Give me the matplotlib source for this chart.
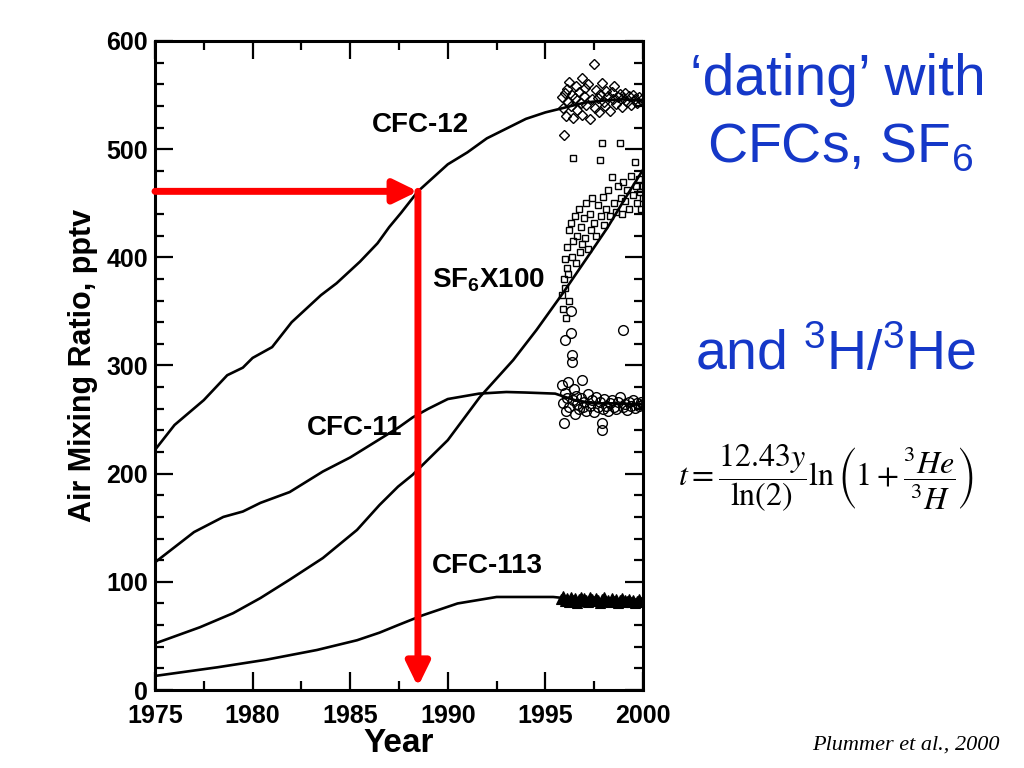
#!/usr/bin/env python
"""
CFC / SF6 air mixing ratio plot with dating arrows
"""

import matplotlib
matplotlib.use('Agg')
import matplotlib.pyplot as plt
from matplotlib.ticker import MultipleLocator

# atmospheric curves (year, pptv)
cfc12_year = [1975, 1976, 1977.5, 1978.7, 1979.5, 1980, 1981, 1982, 1983.5, 1984.3, 1985.5,
              1986.4, 1987, 1987.6, 1988.47, 1990, 1991, 1992, 1993, 1994, 1995, 1995.9,
              1997, 1998, 1999, 2000]
cfc12 = [222, 245, 268, 291, 298, 307, 317, 340, 365, 376, 396,
         413, 428, 441, 461, 486, 497, 510, 519, 528, 534, 538,
         543, 545, 546, 545]

cfc11_year = [1975, 1977, 1978.5, 1979.5, 1980.4, 1981.9, 1983.6, 1985, 1986.7, 1987.5,
              1988.2, 1989, 1990, 1991.6, 1993, 1994, 1995.5, 1996.5, 1997.5, 1998.5, 2000]
cfc11 = [118, 146, 160, 165, 173, 183, 202, 215, 234, 243,
         252, 260, 269, 274, 275.5, 275, 274, 268, 265, 265, 264]

sf6_year = [1975, 1977.3, 1979, 1980.4, 1981.9, 1983.6, 1985.35, 1986.5, 1987.45, 1988.2,
            1990, 1991.65, 1992.5, 1993.35, 1994.55, 1995.9, 1997.3, 1998.2, 1999, 2000]
sf6 = [43, 58, 71, 85, 102, 122, 148, 171, 188, 199,
       231, 271, 288, 305, 333, 367, 404, 428, 452, 481]

cfc113_year = [1975, 1978.2, 1980.7, 1983.3, 1985.35, 1986.5, 1987.45, 1988.7, 1990.5,
               1992.5, 1995.4, 1996.5, 1998, 2000]
cfc113 = [13, 21, 28, 37, 46, 53, 60, 69, 80, 86, 86, 84, 83, 82]

# groundwater samples
dia_year = [1995.85, 1995.9, 1995.95, 1996.0, 1996.05, 1996.1, 1996.15, 1996.2, 1996.3, 1996.35,
            1996.4, 1996.5, 1996.55, 1996.6, 1996.7, 1996.8, 1996.85, 1996.9, 1997.0, 1997.05,
            1997.1, 1997.2, 1997.3, 1997.5, 1997.4, 1997.55, 1997.6, 1997.7, 1997.75, 1997.8,
            1997.9, 1998.0, 1998.05, 1998.1, 1998.2, 1998.3, 1998.4, 1998.45, 1998.5, 1998.6,
            1998.7, 1998.8, 1998.9, 1999.0, 1999.1, 1999.2, 1999.3, 1999.4, 1999.5, 1999.6,
            1999.7, 1999.8, 1999.9, 2000.0]
dia_val = [548, 538, 513, 552, 531, 556, 544, 562, 540, 550,
           529, 547, 558, 536, 553, 543, 566, 532, 549, 557,
           541, 560, 528, 579, 546, 538, 555, 547, 534, 551,
           561, 544, 540, 554, 549, 535, 553, 546, 558, 542,
           548, 551, 539, 547, 552, 544, 549, 541, 550, 546,
           543, 548, 545, 544]

sq_year = [1995.85, 1995.9, 1995.95, 1996.0, 1996.0, 1996.05, 1996.1, 1996.1, 1996.15, 1996.2,
           1996.2, 1996.3, 1996.35, 1996.4, 1996.4, 1996.5, 1996.55, 1996.6, 1996.7, 1996.75,
           1996.8, 1996.9, 1997.0, 1997.05, 1997.1, 1997.2, 1997.3, 1997.35, 1997.4, 1997.5,
           1997.6, 1997.7, 1997.8, 1997.85, 1997.9, 1997.95, 1998.0, 1998.1, 1998.2, 1998.3,
           1998.4, 1998.5, 1998.6, 1998.7, 1998.8, 1998.85, 1998.9, 1999.0, 1999.1, 1999.2,
           1999.3, 1999.4, 1999.5, 1999.6, 1999.65, 1999.7, 1999.8, 1999.85, 1999.9, 2000.0,
           2000.0]
sq_val = [365, 352, 380, 372, 398, 344, 390, 410, 385, 425,
          360, 432, 400, 492, 415, 438, 395, 420, 445, 405,
          428, 412, 436, 418, 450, 408, 440, 425, 455, 432,
          420, 448, 490, 438, 506, 456, 430, 445, 462, 438,
          474, 450, 442, 466, 506, 455, 440, 470, 452, 462,
          445, 475, 458, 488, 466, 450, 472, 460, 445, 466,
          455]

circ_year = [1995.85, 1995.9, 1995.95, 1996.0, 1996.0, 1996.05, 1996.1, 1996.15, 1996.2, 1996.3,
             1996.3, 1996.35, 1996.35, 1996.4, 1996.45, 1996.5, 1996.55, 1996.6, 1996.7, 1996.8,
             1996.9, 1996.95, 1997.0, 1997.1, 1997.2, 1997.3, 1997.4, 1997.5, 1997.6, 1997.7,
             1997.8, 1997.9, 1997.9, 1997.95, 1998.0, 1998.1, 1998.2, 1998.3, 1998.4, 1998.5,
             1998.6, 1998.7, 1998.8, 1998.95, 1999.0, 1999.1, 1999.2, 1999.3, 1999.4, 1999.5,
             1999.6, 1999.7, 1999.8, 1999.9, 2000.0]
circ_val = [282, 265, 247, 275, 324, 258, 270, 285, 262, 350,
            330, 310, 303, 268, 278, 255, 272, 264, 260, 270,
            287, 262, 266, 258, 274, 263, 268, 257, 271, 262,
            266, 247, 240, 260, 269, 263, 258, 265, 268, 262,
            260, 266, 271, 333, 262, 264, 259, 266, 263, 268,
            261, 265, 263, 266, 264]

tri_year = [1995.8, 1995.9, 1996.0, 1996.1, 1996.2, 1996.3, 1996.4, 1996.5, 1996.6, 1996.7,
            1996.8, 1996.9, 1997.0, 1997.1, 1997.2, 1997.3, 1997.4, 1997.5, 1997.6, 1997.7,
            1997.8, 1997.9, 1998.0, 1998.1, 1998.2, 1998.3, 1998.4, 1998.5, 1998.6, 1998.7,
            1998.8, 1998.9, 1999.0, 1999.1, 1999.2, 1999.3, 1999.4, 1999.5, 1999.6, 1999.7,
            1999.8, 1999.9, 2000.0]
tri_val = [84, 87, 82, 85, 81, 86, 83, 85, 80, 84,
           86, 82, 85, 83, 81, 86, 84, 82, 85, 83,
           80, 84, 86, 82, 83, 81, 85, 82, 84, 80,
           83, 85, 81, 83, 82, 84, 81, 83, 80, 82,
           84, 81, 82]

# dating example
date_year = 1988.47
date_val = 461

BLUE = '#1538c8'


def plot_data():
    plt.rcParams['font.family'] = 'Liberation Sans'
    plt.rcParams['mathtext.fontset'] = 'custom'
    plt.rcParams['mathtext.rm'] = 'Liberation Sans'
    plt.rcParams['mathtext.bf'] = 'Liberation Sans:bold'

    fig = plt.figure(figsize=(10.24, 7.68), dpi=100)
    ax = fig.add_axes([155 / 1024, 1 - 690 / 768, 488 / 1024, 649 / 768])

    ax.plot(cfc12_year, cfc12, 'k-', lw=1.9)
    ax.plot(cfc11_year, cfc11, 'k-', lw=1.9)
    ax.plot(sf6_year, sf6, 'k-', lw=1.9)
    ax.plot(cfc113_year, cfc113, 'k-', lw=1.9)

    ax.plot(dia_year, dia_val, 'D', ms=5.5, mfc='none', mec='k', mew=1.0)
    ax.plot(sq_year, sq_val, 's', ms=5, mfc='none', mec='k', mew=1.0)
    ax.plot(circ_year, circ_val, 'o', ms=7, mfc='none', mec='k', mew=1.0)
    ax.plot(tri_year, tri_val, '^', ms=7, mfc='k', mec='k', mew=0.8)

    arrow = dict(arrowstyle='-|>,head_length=0.45,head_width=0.22', color='red', lw=5,
                 mutation_scale=32, shrinkA=0, shrinkB=0)
    ax.annotate('', xy=(date_year, date_val), xytext=(1975, date_val), arrowprops=arrow)
    ax.annotate('', xy=(date_year, 3), xytext=(date_year, date_val), arrowprops=arrow)

    lab = dict(fontsize=20, fontweight='bold', va='center')
    ax.text(1986.1, 522, 'CFC-12', **lab)
    ax.text(1982.8, 242, 'CFC-11', **lab)
    ax.text(1989.2, 379, r'SF$_\mathbf{6}$X100', **lab)
    ax.text(1989.2, 115, 'CFC-113', **lab)

    ax.set_xlim(1975, 2000)
    ax.set_ylim(0, 600)
    ax.xaxis.set_major_locator(MultipleLocator(5))
    ax.xaxis.set_minor_locator(MultipleLocator(2.5))
    ax.yaxis.set_major_locator(MultipleLocator(100))
    ax.yaxis.set_minor_locator(MultipleLocator(20))
    ax.tick_params(which='both', direction='in', top=True, right=True, width=1.6)
    ax.tick_params(which='major', length=13, labelsize=18)
    ax.tick_params(axis='x', which='major', pad=10)
    ax.tick_params(axis='y', which='major', pad=5)
    ax.tick_params(which='minor', length=6.5)
    for t in ax.get_xticklabels() + ax.get_yticklabels():
        t.set_fontweight('bold')
    for s in ax.spines.values():
        s.set_linewidth(2.2)

    ax.set_xlabel('Year', fontsize=24, fontweight='bold', labelpad=0)
    ax.set_ylabel('Air Mixing Ratio, pptv', fontsize=22, fontweight='bold', labelpad=6)

    # right side notes
    fig.text(838 / 1024, 1 - 80 / 768, '\u2018dating\u2019 with', color=BLUE,
             fontsize=41, ha='center', va='center')
    fig.text(840 / 1024, 1 - 148 / 768, r'CFCs, SF$_6$', color=BLUE,
             fontsize=40, ha='center', va='center')
    fig.text(836 / 1024, 1 - 355 / 768, r'and $^3$H/$^3$He', color=BLUE,
             fontsize=40, ha='center', va='center')
    fig.text(826 / 1024, 1 - 478 / 768,
             r'$t=\dfrac{12.43y}{\ln(2)}\ln\left(1+\dfrac{{}^3He}{{}^3H}\right)$',
             math_fontfamily='stix', fontsize=23, ha='center', va='center')
    fig.text(1000 / 1024, 1 - 745 / 768, 'Plummer et al., 2000', family='Liberation Serif',
             style='italic', fontsize=16, ha='right', va='center')

    fig.savefig('out.png', dpi=100)


def main():
    plot_data()


# --------------------
if __name__ == '__main__':
    main()
